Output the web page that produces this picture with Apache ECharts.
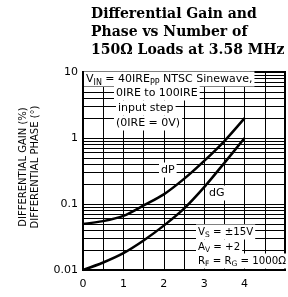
<!DOCTYPE html>
<html>
<head>
<meta charset="utf-8">
<script src="https://cdn.jsdelivr.net/npm/echarts@6/dist/echarts.min.js"></script>
<style>
  html, body { margin: 0; padding: 0; background: #fff; }
  #chart { width: 288px; height: 297px; }
</style>
</head>
<body>
<div id="chart"></div>
<script>
const chart = echarts.init(document.getElementById('chart'));

// number of 150 ohm loads
const loads = [0, 0.5, 1, 1.5, 2, 2.5, 3, 3.5, 4];
// differential phase (deg)
const dP = [0.05, 0.055, 0.066, 0.095, 0.14, 0.24, 0.45, 0.9, 2.0];
// differential gain (%)
const dG = [0.01, 0.013, 0.018, 0.028, 0.047, 0.085, 0.18, 0.42, 1.0];
// log grid lines between decades
const minorLevels = [0.02, 0.03, 0.04, 0.05, 0.06, 0.07, 0.08, 0.09,
  0.2, 0.3, 0.4, 0.5, 0.6, 0.7, 0.8, 0.9,
  2, 3, 4, 5, 6, 7, 8, 9];
const yLabels = { 0.01: '0.01', 0.1: '0.1', 1: '1', 10: '10' };

const sans = 'DejaVu Sans';
const rich = {
  a: { fontFamily: sans, fontSize: 11, lineHeight: 15, color: '#000' },
  s: { fontFamily: sans, fontSize: 8, lineHeight: 8, verticalAlign: 'bottom', color: '#000' },
  b: { fontFamily: sans, fontSize: 10.2, lineHeight: 15, color: '#000' },
  t: { fontFamily: sans, fontSize: 7.5, lineHeight: 8, verticalAlign: 'bottom', color: '#000' }
};

// white-backed annotation text
function note(x, y, text) {
  return {
    type: 'text',
    x: x,
    y: y,
    z: 100,
    style: {
      text: text,
      rich: rich,
      align: 'left',
      verticalAlign: 'middle',
      backgroundColor: '#fff',
      padding: [0, 2, 0, 2]
    }
  };
}

const option = {
  animation: false,
  title: {
    text: 'Differential Gain and\nPhase vs Number of\n150Ω Loads at 3.58 MHz',
    left: 91,
    top: 5,
    padding: 0,
    textStyle: {
      fontFamily: 'DejaVu Serif',
      fontWeight: 'bold',
      fontSize: 14,
      lineHeight: 18,
      color: '#000'
    }
  },
  grid: {
    left: 83,
    top: 72,
    right: 0,
    bottom: 27,
    show: true,
    borderColor: '#000',
    borderWidth: 2
  },
  xAxis: {
    type: 'value',
    min: 0,
    max: 5,
    interval: 0.5,
    axisLine: { show: false },
    axisTick: { show: false },
    splitLine: { lineStyle: { color: '#000', width: 1 } },
    axisLabel: {
      margin: 9,
      fontFamily: sans,
      fontSize: 11,
      color: '#000',
      formatter: v => (v % 1 === 0 && v < 5) ? String(v) : ''
    }
  },
  yAxis: {
    type: 'log',
    min: 0.01,
    max: 10,
    logBase: 10,
    axisLine: { show: false },
    axisTick: { show: false },
    splitLine: { lineStyle: { color: '#000', width: 1 } },
    axisLabel: {
      margin: 5,
      fontFamily: sans,
      fontSize: 11,
      color: '#000',
      formatter: v => yLabels[v] || ''
    },
    name: 'DIFFERENTIAL GAIN (%)\nDIFFERENTIAL PHASE (°)',
    nameLocation: 'middle',
    nameRotate: 90,
    nameGap: 42,
    nameTextStyle: { fontFamily: sans, fontSize: 10, lineHeight: 12, color: '#000', padding: [0, 0, 0, 8] }
  },
  series: [
    {
      name: 'dP',
      type: 'line',
      smooth: 0.3,
      symbol: 'none',
      lineStyle: { color: '#000', width: 2.5 },
      data: loads.map((x, i) => [x, dP[i]]),
      markLine: {
        silent: true,
        symbol: ['none', 'none'],
        label: { show: false },
        lineStyle: { color: '#000', width: 1, type: 'solid' },
        data: minorLevels.map(v => ({ yAxis: v }))
      },
      z: 3
    },
    {
      name: 'dG',
      type: 'line',
      smooth: 0.3,
      symbol: 'none',
      lineStyle: { color: '#000', width: 2.5 },
      data: loads.map((x, i) => [x, dG[i]]),
      z: 3
    }
  ],
  graphic: [
    note(84, 79, '{a|V}{s|IN}{a| = 40IRE}{s|PP}{a| NTSC Sinewave,}'),
    note(114, 93, '{a|0IRE to 100IRE}'),
    note(116, 108, '{a|input step}'),
    note(114, 123, '{a|(0IRE = 0V)}'),
    note(159, 170, '{a|dP}'),
    note(207, 193, '{a|dG}'),
    note(196, 232, '{b|V}{t|S}{b| = ±15V}'),
    note(196, 247, '{b|A}{t|V}{b| = +2}'),
    note(196, 261, '{b|R}{t|F}{b| = R}{t|G}{b| = 1000Ω}')
  ]
};

chart.setOption(option);
</script>
</body>
</html>
